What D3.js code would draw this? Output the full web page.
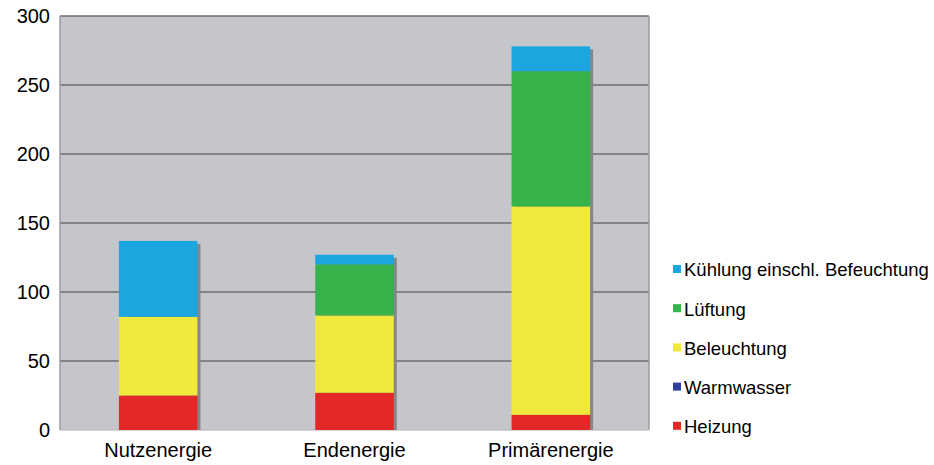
<!DOCTYPE html>
<html><head><meta charset="utf-8">
<script src="https://cdn.jsdelivr.net/npm/d3@7"></script>
<style>body{margin:0;background:#fff}svg{display:block;font-family:"Liberation Sans",Arial,sans-serif}</style>
</head><body>
<svg id="c" width="934" height="465"></svg>
<script>
const categories = ["Nutzenergie", "Endenergie", "Primärenergie"];
const seriesNames = ["Heizung", "Warmwasser", "Beleuchtung", "Lüftung", "Kühlung einschl. Befeuchtung"];
const heizung = [25, 27, 11];
const warmwasser = [0, 0, 0];
const beleuchtung = [57, 56, 151];
const lueftung = [0, 37, 98];
const kuehlung = [55, 7, 18];
const yTicks = [0, 50, 100, 150, 200, 250, 300];
const colors = ["#e42828", "#2e3f9c", "#f0e83b", "#36b34a", "#1ba6df"];

const seriesValues = [heizung, warmwasser, beleuchtung, lueftung, kuehlung];
const table = categories.map((c, i) => {
  const o = {cat: c};
  seriesNames.forEach((s, j) => o[s] = seriesValues[j][i]);
  return o;
});

const svg = d3.select("#c");
const L = 60, R = 649, T = 16, B = 430;
const x = d3.scaleBand().domain(categories).range([L, R]).paddingInner(0.6).paddingOuter(0.3);
const y = d3.scaleLinear().domain([0, 300]).range([B, T]);

svg.append("rect").attr("x", L).attr("y", T).attr("width", R - L).attr("height", B - T).attr("fill", "#c5c6cb");

svg.append("g").selectAll("line").data(yTicks.filter(d => d > 0)).join("line")
  .attr("x1", L).attr("x2", R).attr("y1", d => y(d)).attr("y2", d => y(d))
  .attr("stroke", "#6d6e70").attr("stroke-width", 1.6);
svg.append("line").attr("x1", L).attr("x2", L).attr("y1", T).attr("y2", B).attr("stroke", "#9a9b9e").attr("stroke-width", 1.5);
svg.append("line").attr("x1", R).attr("x2", R).attr("y1", T).attr("y2", B).attr("stroke", "#9a9b9e").attr("stroke-width", 1.5);
svg.append("line").attr("x1", L).attr("x2", R).attr("y1", B).attr("y2", B).attr("stroke", "#b0b1b4").attr("stroke-width", 1);

const stack = d3.stack().keys(seriesNames)(table);

svg.append("g").selectAll("rect").data(table).join("rect")
  .attr("x", d => x(d.cat) + 3).attr("width", x.bandwidth())
  .attr("y", d => y(d3.sum(seriesNames, s => d[s])) + 3)
  .attr("height", d => B - y(d3.sum(seriesNames, s => d[s])) - 3)
  .attr("fill", "#85868a");

svg.append("g").selectAll("g").data(stack).join("g")
  .attr("fill", (d, i) => colors[i])
  .selectAll("rect").data(d => d).join("rect")
  .attr("x", d => x(d.data.cat)).attr("width", x.bandwidth())
  .attr("y", d => y(d[1])).attr("height", d => y(d[0]) - y(d[1]));

const ya = svg.append("g").attr("transform", `translate(${L},0)`)
  .call(d3.axisLeft(y).tickValues(yTicks).tickSize(0).tickPadding(10));
ya.select(".domain").remove();
ya.selectAll("text").attr("font-size", 20).attr("fill", "#000").attr("font-family", "Liberation Sans, Arial, sans-serif");

const xa = svg.append("g").attr("transform", `translate(0,${B})`)
  .call(d3.axisBottom(x).tickSize(0).tickPadding(13));
xa.select(".domain").remove();
xa.selectAll("text").attr("font-size", 20).attr("fill", "#000").attr("font-family", "Liberation Sans, Arial, sans-serif");

const legendOrder = seriesNames.map((s, i) => ({s, c: colors[i]})).reverse();
const lg = svg.append("g").selectAll("g").data(legendOrder).join("g")
  .attr("transform", (d, i) => `translate(673,${270 + i * 39.2})`);
lg.append("rect").attr("x", 0).attr("y", -5).attr("width", 8).attr("height", 8).attr("fill", d => d.c);
lg.append("text").attr("x", 11).attr("y", 0).attr("dy", "0.35em").attr("font-size", 18.5).text(d => d.s);
</script>
</body></html>
